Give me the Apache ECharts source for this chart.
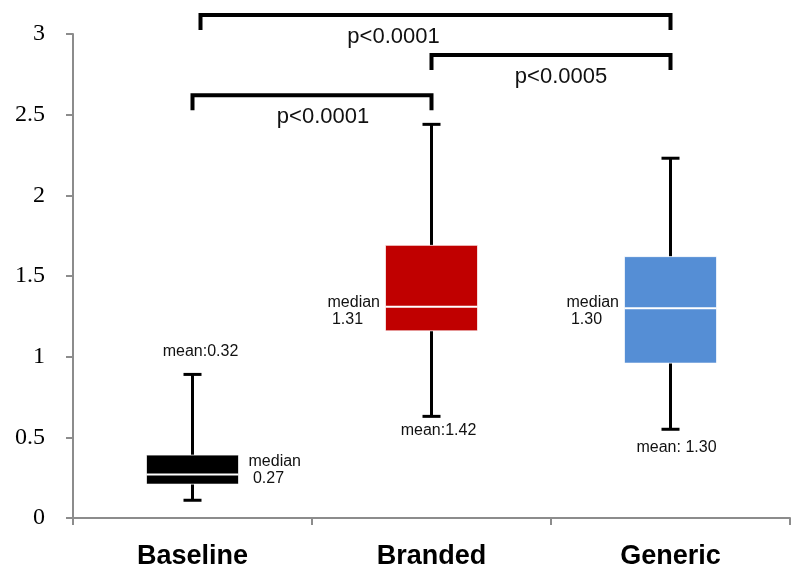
<!DOCTYPE html>
<html>
<head>
<meta charset="utf-8">
<script src="https://cdn.jsdelivr.net/npm/echarts@6/dist/echarts.min.js"></script>
<style>
html,body{margin:0;padding:0;background:#fff;}
#chart{width:792px;height:570px;}
</style>
</head>
<body>
<div id="chart"></div>
<script>
// ---- data ----
const categories = ['Baseline', 'Branded', 'Generic'];
const whiskerLow  = [0.11, 0.63, 0.55];
const q1          = [0.21, 1.16, 0.96];
const median      = [0.27, 1.31, 1.30];
const q3          = [0.39, 1.69, 1.62];
const whiskerHigh = [0.89, 2.44, 2.23];
const meanLabels   = ['mean:0.32', 'mean:1.42', 'mean: 1.30'];
const medianLabels = ['median\n 0.27', 'median\n 1.31', 'median\n 1.30'];
const yTicks = [0, 0.5, 1, 1.5, 2, 2.5, 3];
// significance brackets
const bracketFrom = [0, 1, 0];
const bracketTo   = [1, 2, 2];
const bracketY    = [2.62, 2.87, 3.117];
const pLabels     = ['p<0.0001', 'p<0.0005', 'p<0.0001'];

// ---- styles ----
const boxColors = ['#000000', '#c00000', '#558ed5'];
const medianSide = ['right', 'left', 'left'];
const meanSide = ['above', 'below', 'below'];
const meanDx = [8, 7, 6];
const meanDy = [-23, 14, 18];
const medianDy = [-4.5, 4.5, 3];
const bracketLeftShift = [0, 0, 8];
const bracketLabelDx = [11, 10, -42];
const TXT = 'Liberation Sans, Arial, sans-serif';

const boxData = categories.map((c, i) => [i, whiskerLow[i], q1[i], median[i], q3[i], whiskerHigh[i]]);
const bracketData = bracketFrom.map((f, i) => [f, bracketTo[i], bracketY[i], i]);

const chart = echarts.init(document.getElementById('chart'), null, {renderer: 'canvas'});

function renderBox(params, api) {
  const i = api.value(0);
  const x = api.coord([i, 0])[0];
  const yLow = api.coord([i, api.value(1)])[1];
  const yQ1 = api.coord([i, api.value(2)])[1];
  const yMed = api.coord([i, api.value(3)])[1];
  const yQ3 = api.coord([i, api.value(4)])[1];
  const yHigh = api.coord([i, api.value(5)])[1];
  const half = 46, cap = 9;
  const line = {stroke: '#000', lineWidth: 3};
  const children = [
    {type: 'line', shape: {x1: x, y1: yQ3, x2: x, y2: yHigh}, style: line},
    {type: 'line', shape: {x1: x, y1: yQ1, x2: x, y2: yLow}, style: line},
    {type: 'line', shape: {x1: x - cap, y1: yHigh, x2: x + cap, y2: yHigh}, style: line},
    {type: 'line', shape: {x1: x - cap, y1: yLow, x2: x + cap, y2: yLow}, style: line},
    {type: 'rect', shape: {x: x - half, y: yQ3, width: 2 * half, height: yQ1 - yQ3},
      style: {fill: boxColors[i], stroke: 'rgba(255,255,255,0.7)', lineWidth: 1}},
    {type: 'line', shape: {x1: x - half, y1: yMed, x2: x + half, y2: yMed},
      style: {stroke: '#ffffff', lineWidth: 2}},
    {type: 'text', style: {
      text: medianLabels[i],
      x: medianSide[i] === 'right' ? x + half + 10 : x - half - 58,
      y: yMed + medianDy[i],
      align: 'left', verticalAlign: 'middle',
      fontFamily: TXT, fontSize: 16, lineHeight: 17, fill: '#111'}},
    {type: 'text', style: {
      text: meanLabels[i],
      x: x + meanDx[i],
      y: (meanSide[i] === 'above' ? yHigh : yLow) + meanDy[i],
      align: 'center', verticalAlign: 'middle',
      fontFamily: TXT, fontSize: 16, fill: '#111'}}
  ];
  return {type: 'group', children: children};
}

function renderBracket(params, api) {
  const k = api.value(3);
  const p1 = api.coord([api.value(0), api.value(2)]);
  const p2 = api.coord([api.value(1), api.value(2)]);
  const x1 = p1[0] + bracketLeftShift[k];
  const x2 = p2[0];
  const y = p1[1];
  const leg = 15;
  return {type: 'group', children: [
    {type: 'polyline', shape: {points: [[x1, y + leg], [x1, y], [x2, y], [x2, y + leg]]},
      style: {stroke: '#000', lineWidth: 4, fill: null, lineJoin: 'miter', lineCap: 'butt'}},
    {type: 'text', style: {
      text: pLabels[k], x: (x1 + x2) / 2 + bracketLabelDx[k], y: y + 22,
      align: 'center', verticalAlign: 'middle',
      fontFamily: TXT, fontSize: 22, fill: '#111'}}
  ]};
}

chart.setOption({
  animation: false,
  backgroundColor: '#ffffff',
  grid: {left: 73, right: 2, top: 34, bottom: 51, containLabel: false},
  xAxis: {
    type: 'category',
    data: categories,
    boundaryGap: true,
    axisLine: {lineStyle: {color: '#8c8c8c', width: 2}},
    axisTick: {show: true, length: 7, lineStyle: {color: '#8c8c8c', width: 2}},
    axisLabel: {color: '#000', fontFamily: TXT, fontWeight: 'bold', fontSize: 27, margin: 25}
  },
  yAxis: {
    type: 'value',
    min: yTicks[0], max: yTicks[yTicks.length - 1], interval: 0.5,
    splitLine: {show: false},
    axisLine: {show: true, lineStyle: {color: '#8c8c8c', width: 2}},
    axisTick: {show: true, length: 7, lineStyle: {color: '#8c8c8c', width: 2}},
    axisLabel: {color: '#000', fontFamily: 'Liberation Serif, Times New Roman, serif', fontSize: 24, margin: 28}
  },
  series: [
    {type: 'custom', clip: false, renderItem: renderBox, data: boxData,
      encode: {x: 0, y: [1, 2, 3, 4, 5]}, z: 3},
    {type: 'custom', clip: false, renderItem: renderBracket, data: bracketData,
      encode: {x: [0, 1], y: 2}, z: 4}
  ]
});
</script>
</body>
</html>
